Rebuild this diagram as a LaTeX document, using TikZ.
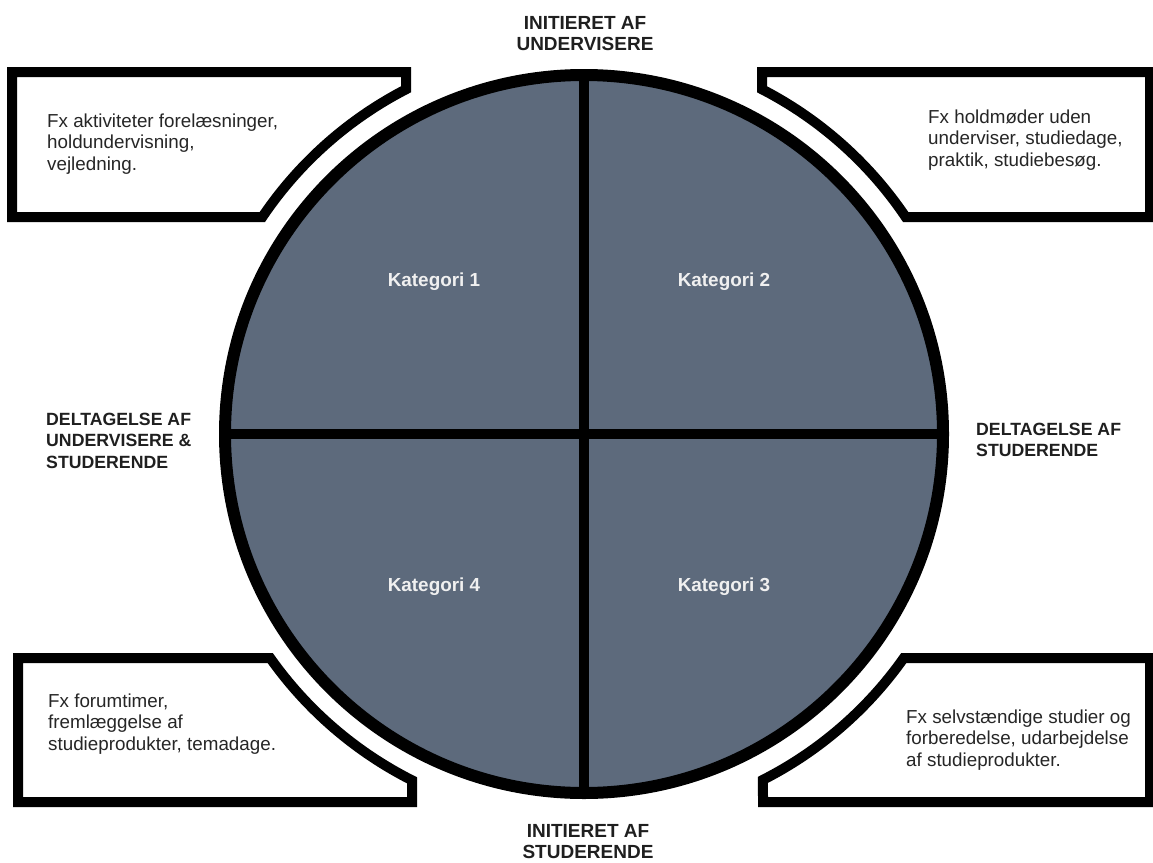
\documentclass[tikz,border=0pt]{standalone}
\usepackage{fontspec}
\setmainfont{Liberation Sans}
\begin{document}
\begin{tikzpicture}[x=1pt,y=1pt,
  framebox/.style={draw=black,line width=10pt,fill=white,line join=miter},
  bodytext/.style={anchor=north west,inner sep=0pt,align=left,text=black!85,
    font=\fontsize{18.8}{21.7}\selectfont},
  sidelabel/.style={anchor=north west,inner sep=0pt,align=left,text=black!88,
    font=\fontsize{17.7}{21.5}\selectfont\bfseries},
  axislabel/.style={anchor=north,inner sep=0pt,align=center,text=black!88,
    font=\fontsize{19}{21.5}\selectfont\bfseries},
  catlabel/.style={anchor=base,inner sep=0pt,text=white!94!black,
    font=\fontsize{18.9}{22}\selectfont\bfseries}]
\useasboundingbox (0,0) rectangle (1153,-862);
\coordinate (C) at (584,-434);
% corner boxes
\draw[framebox] (12,-72) -- (406,-72) -- (406,-89.3)
  arc[start angle=117.3,end angle=146,radius=388] -- (12,-217) -- cycle;
\draw[framebox] (1150,-72) -- (762,-72) -- (762,-89.3)
  arc[start angle=62.7,end angle=34,radius=388] -- (1150,-217) -- cycle;
\draw[framebox] (18,-658) -- (270.2,-658)
  arc[start angle=215.26,end angle=243.19,radius=388] -- (412,-802) -- (18,-802) -- cycle;
\draw[framebox] (1150,-658) -- (903.8,-658)
  arc[start angle=324.74,end angle=296.97,radius=388] -- (763,-802) -- (1150,-802) -- cycle;
% disc
\node[circle,minimum size=718pt,inner sep=0pt,fill={rgb,255:red,93;green,106;blue,124}] (disc) at (C) {};
\draw[line width=10pt] (disc.north) -- (disc.south);
\draw[line width=10pt] (disc.west) -- (disc.east);
\node[circle,minimum size=718pt,inner sep=0pt,draw=black,line width=12pt] (rim) at (C) {};
% category labels
\node[catlabel] (k1) at (434,-286) {Kategori 1};
\node[catlabel] (k2) at (724,-286) {Kategori 2};
\node[catlabel] (k4) at (434,-591) {Kategori 4};
\node[catlabel] (k3) at (724,-591) {Kategori 3};
% axis labels
\node[axislabel] (top) at (585,-14) {\strut INITIERET AF\\UNDERVISERE};
\node[axislabel] (bot) at (588,-822) {\strut INITIERET AF\\STUDERENDE};
\node[sidelabel] (left) at (46,-410) {\strut DELTAGELSE AF\\UNDERVISERE \&\\STUDERENDE};
\node[sidelabel] (right) at (976,-420) {\strut DELTAGELSE AF\\STUDERENDE};
% box texts
\node[bodytext] (t1) at (47,-111.8) {\strut Fx aktiviteter forelæsninger,\\holdundervisning,\\vejledning.};
\node[bodytext] (t2) at (928,-107.8) {\strut Fx holdmøder uden\\underviser, studiedage,\\praktik, studiebesøg.};
\node[bodytext] (t4) at (48,-691.8) {\strut Fx forumtimer,\\fremlæggelse af\\studieprodukter, temadage.};
\node[bodytext] (t3) at (906,-707.8) {\strut Fx selvstændige studier og\\forberedelse, udarbejdelse\\af studieprodukter.};
\end{tikzpicture}
\end{document}
